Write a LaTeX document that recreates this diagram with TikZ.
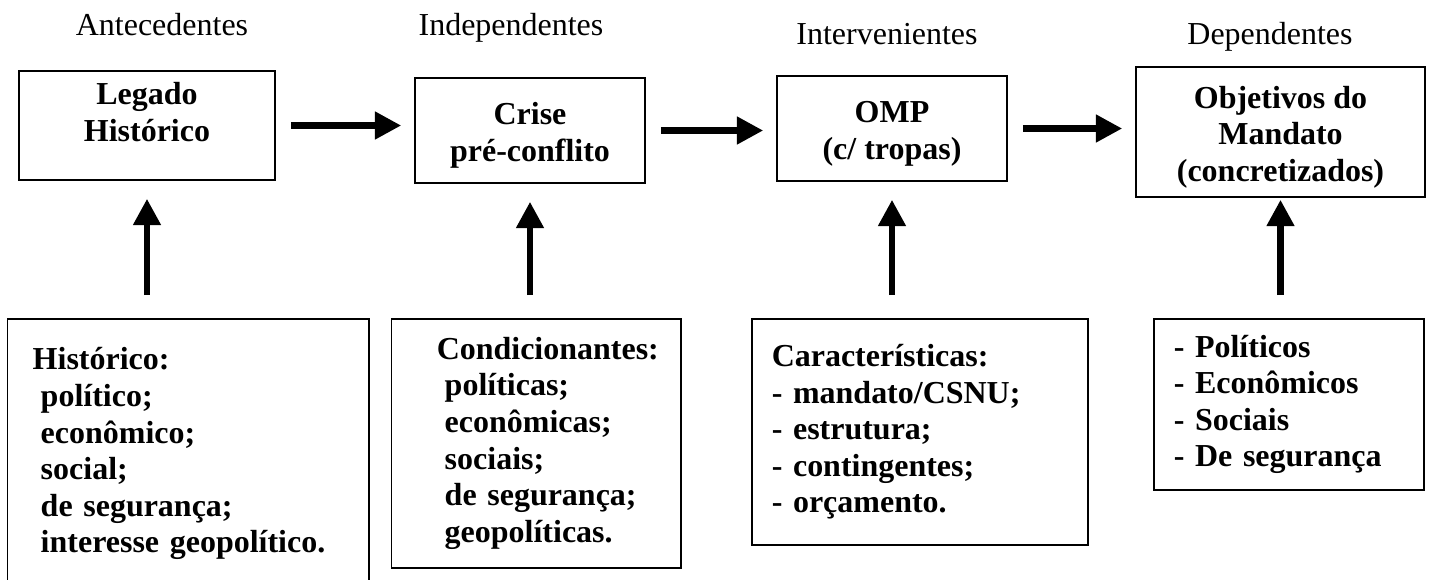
\documentclass[tikz,border=0pt]{standalone}
\usepackage{fontspec}
\setmainfont{Liberation Serif}
\usetikzlibrary{arrows.meta,calc,positioning}
\newcommand{\diagfont}{\fontsize{18.2pt}{20.8pt}\selectfont}
\newcommand{\firstline}{\rule{0pt}{0.64cm}}
\tikzset{
  header/.style={inner sep=0pt,anchor=base,font=\diagfont},
  topbox/.style={draw,line width=0.85pt,align=center,inner sep=0pt,font=\diagfont\bfseries},
  listbox/.style={draw,line width=0.85pt,align=left,anchor=north west,inner ysep=0pt,font=\diagfont\bfseries},
  flow/.style={line width=3.7pt,-{Triangle[length=15pt,width=15pt]}}
}
\begin{document}
\begin{tikzpicture}[x=0.2mm,y=-0.2mm]
            \useasboundingbox (0,0) rectangle (1429,579);
            \node[header] (antec) at (162,35) {Antecedentes};
            \node[header] (indep) at (511,35) {Independentes};
            \node[header] (interv) at (887,44) {Intervenientes};
            \node[header] (depend) at (1270,44) {Dependentes};
            \node[topbox,minimum width=5.12cm,minimum height=2.18cm] (legado) at (147,125.5) {\firstline Legado\\Histórico\\\mbox{}};
            \node[topbox,minimum width=4.6cm,minimum height=2.1cm] (crise) at (530,130.5) {\firstline Crise\\pré-conflito};
            \node[topbox,minimum width=4.6cm,minimum height=2.1cm] (omp) at (892,128.5) {\firstline OMP\\(c/ tropas)};
            \node[topbox,minimum width=5.78cm,minimum height=2.6cm] (objetivos) at (1280.5,132) {\firstline Objetivos do\\Mandato\\(concretizados)};
            \node[listbox,minimum width=7.22cm,minimum height=5.4cm,text width=6.22cm,inner xsep=0.5cm] (hist) at (7,318)
                {Histórico:\\\hspace*{.25em}político;\\\hspace*{.25em}econômico;\\\hspace*{.25em}social;\\\hspace*{.25em}de segurança;\\\hspace*{.25em}interesse geopolítico.};
            \node[listbox,minimum width=5.78cm,minimum height=4.98cm,text width=3.98cm,inner xsep=0.9cm] (cond) at (391,318)
                {Condicionantes:\\\hspace*{.25em}políticas;\\\hspace*{.25em}econômicas;\\\hspace*{.25em}sociais;\\\hspace*{.25em}\mbox{de segurança;}\\\hspace*{.25em}geopolíticas.};
            \node[listbox,minimum width=6.72cm,minimum height=4.52cm,text width=5.92cm,inner xsep=0.4cm] (carac) at (751,318)
                {Características:\\- mandato/CSNU;\\- estrutura;\\- contingentes;\\- orçamento.};
            \node[listbox,minimum width=5.4cm,minimum height=3.42cm,text width=4.6cm,inner xsep=0.4cm] (metas) at (1153,318)
                {- Políticos\\- Econômicos\\- Sociais\\- De segurança};
            \foreach \a/\b in {legado/crise,crise/omp,omp/objetivos}{
                    \draw[flow,shorten <=0.3cm,shorten >=0.26cm](\a.east)--(\a.east -| \b.west);}
            \foreach \a/\b in {hist/legado,cond/crise,carac/omp}{
                    \draw[flow,shorten <=0.46cm,shorten >=0.36cm](\b.south |- \a.north)--(\b.south);}
            \draw[flow,shorten <=0.46cm,shorten >=0.04cm](objetivos.south |- metas.north)--(objetivos.south);
        \end{tikzpicture}
\end{document}
